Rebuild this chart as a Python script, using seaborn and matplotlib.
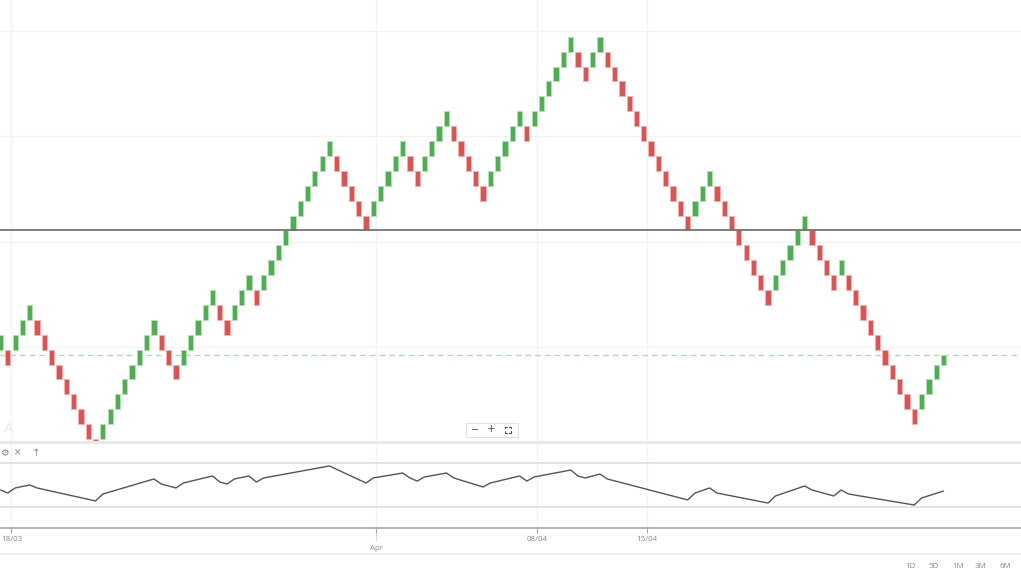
import matplotlib
matplotlib.use("Agg")
import numpy as np
import pandas as pd
import matplotlib.pyplot as plt
import seaborn as sns

# Renko bricks (bottom of each brick, in brick units)
brick_low = [7, 6, 7, 8, 9, 8, 7, 6, 5, 4, 3, 2, 1, 0, 1, 2, 3, 4, 5, 6,
             7, 8, 7, 6, 5, 6, 7, 8, 9, 10, 9, 8, 9, 10, 11, 10, 11, 12, 13, 14,
             15, 16, 17, 18, 19, 20, 19, 18, 17, 16, 15, 16, 17, 18, 19, 20, 19, 18, 19, 20,
             21, 22, 21, 20, 19, 18, 17, 18, 19, 20, 21, 22, 21, 22, 23, 24, 25, 26, 27, 26,
             25, 26, 27, 26, 25, 24, 23, 22, 21, 20, 19, 18, 17, 16, 15, 16, 17, 18, 17, 16,
             15, 14, 13, 12, 11, 10, 11, 12, 13, 14, 15, 14, 13, 12, 11, 12, 11, 10, 9, 8,
             7, 6, 5, 4, 3, 2, 3, 4, 5, 6]
brick_up = [1, 0, 1, 1, 1, 0, 0, 0, 0, 0, 0, 0, 0, 0, 1, 1, 1, 1, 1, 1,
            1, 1, 0, 0, 0, 1, 1, 1, 1, 1, 0, 0, 1, 1, 1, 0, 1, 1, 1, 1,
            1, 1, 1, 1, 1, 1, 0, 0, 0, 0, 0, 1, 1, 1, 1, 1, 0, 0, 1, 1,
            1, 1, 0, 0, 0, 0, 0, 1, 1, 1, 1, 1, 0, 1, 1, 1, 1, 1, 1, 0,
            0, 1, 1, 0, 0, 0, 0, 0, 0, 0, 0, 0, 0, 0, 0, 1, 1, 1, 0, 0,
            0, 0, 0, 0, 0, 0, 1, 1, 1, 1, 1, 0, 0, 0, 0, 1, 0, 0, 0, 0,
            0, 0, 0, 0, 0, 0, 1, 1, 1, 1]
last_level = 6.67          # current price (dashed line), in brick units
resistance_level = 15.03   # solid horizontal line
brick_size = 0.707
base_price = 114.93
grid_prices = [120, 125, 130, 135]

# lower indicator (vertices)
ind_idx = [0, 1, 2, 4, 5, 13, 14, 21, 22, 24, 25, 29, 30, 31, 32, 34, 35, 36, 45,
           50, 51, 55, 56, 57, 58, 61, 62, 66, 67, 71, 72, 73, 78, 79, 80, 81, 82, 83,
           94, 95, 97, 98, 105, 106, 110, 111, 114, 115, 116, 125, 126, 129]
ind_val = [45.5, 42.7, 47.3, 50.0, 47.3, 35.5, 41.8, 55.5, 50.9, 47.3, 51.8, 58.2,
           52.7, 50.9, 55.5, 58.2, 52.7, 56.4, 67.3, 51.8, 56.4, 60.9, 56.4, 53.6, 57.3,
           60.9, 56.4, 48.2, 51.8, 58.2, 53.6, 57.3, 63.6, 58.2, 56.4, 58.2, 60.0, 55.5,
           36.4, 42.7, 47.3, 42.7, 33.6, 40.0, 49.1, 45.5, 40.0, 45.5, 41.8, 31.8, 38.2, 44.5]
ind_bands = [30, 70]

date_pos = [1.5, 51.4, 73.4, 88.4]
date_labels = ["18/03", "Apr", "08/04", "15/04"]
range_buttons = ["1D", "5D", "1M", "3M", "6M"]

sns.set_theme(style="white")
plt.rcParams['font.family'] = ['Open Sans', 'DejaVu Sans']

W, H = 1021, 580
fig = plt.figure(figsize=(W / 100, H / 100), dpi=100)


def px_rect(x0, y0, x1, y1):
    return [x0 / W, 1 - y1 / H, (x1 - x0) / W, (y1 - y0) / H]


ax = fig.add_axes(px_rect(0, 0, W, 442))
axi = fig.add_axes(px_rect(0, 442, W, 528))

df = pd.DataFrame({"low": brick_low, "up": brick_up})
df["i"] = np.arange(len(df))
df["height"] = 1.0
df.loc[df.index[-1], "height"] = last_level - df["low"].iloc[-1]
df["bottom"] = base_price + df["low"] * brick_size
df["h"] = df["height"] * brick_size

green, red = "#4caf50", "#e05252"
for up, fill, edge in [(1, green, "#b5e0b6"), (0, red, "#f4b3b3")]:
    sub = df[df["up"] == up]
    ax.bar(sub["i"], sub["h"], bottom=sub["bottom"], width=0.72,
           color=fill, edgecolor=edge, linewidth=0.7, zorder=3)

xlim = (-0.07, 139.6)
ax.set_xlim(*xlim)
ax.set_ylim(base_price + 0.8 * brick_size, base_price + 30.47 * brick_size)
for p in grid_prices:
    ax.axhline(p, color="#f3f3f3", lw=1, zorder=0)
for xp in date_pos:
    ax.axvline(xp, color="#f3f3f3", lw=1, zorder=0)
    axi.axvline(xp, color="#f3f3f3", lw=1, zorder=0)
ax.axhline(base_price + resistance_level * brick_size, color="#6a6a6a", lw=1.2, zorder=4)
ax.axhline(base_price + last_level * brick_size, color="#a6e3a6", lw=1,
           ls=(0, (4, 3)), zorder=2)
ax.set_xticks([])
ax.set_yticks([])
for s in ax.spines.values():
    s.set_visible(False)
ax.text(0.004, 0.012, "A", transform=ax.transAxes, fontsize=11,
        color="#ececec", ha="left", va="bottom")

# indicator panel
ind = pd.DataFrame({"i": ind_idx, "v": ind_val})
sns.lineplot(data=ind, x="i", y="v", ax=axi, color="#555555", lw=1.0, zorder=3)
for b in ind_bands:
    axi.axhline(b, color="#dedede", lw=1.2, zorder=1)
axi.set_xlim(*xlim)
axi.set_ylim(10.9, 89.1)
axi.set_ylabel("")
axi.set_xlabel("")
axi.set_yticks([])
for name, s in axi.spines.items():
    s.set_visible(name == "bottom")
axi.spines["bottom"].set_color("#a8a8a8")
axi.spines["bottom"].set_linewidth(1.2)
axi.set_xticks(date_pos)
axi.set_xticklabels([lab if lab != "Apr" else "" for lab in date_labels],
                    fontsize=5.8, color="#8a8a8a")
axi.tick_params(axis="x", length=3.5, width=0.8, color="#a8a8a8", pad=2, bottom=True)
for xp, lab in zip(date_pos, date_labels):
    if lab == "Apr":
        axi.plot([xp, xp], [0, -0.14], transform=axi.get_xaxis_transform(),
                 color="#b0b0b0", lw=0.8, ls=(0, (1, 1)), clip_on=False)
        axi.text(xp, -0.2, lab, transform=axi.get_xaxis_transform(), ha="center",
                 va="top", fontsize=5.8, color="#8a8a8a")

# separators and toolbar bits
fig.add_artist(plt.Line2D([0, 1], [1 - 442 / H] * 2, color="#e9e9e9", lw=2.2))
fig.add_artist(plt.Line2D([0, 1], [1 - 554 / H] * 2, color="#ececec", lw=1.2))
fig.text(0 / W, 1 - 453 / H, "⚙", fontsize=7, color="#8a8a8a", ha="left", va="center",
         family=["DejaVu Sans"])
fig.text(18 / W, 1 - 453 / H, "✕", fontsize=6.5, color="#8a8a8a", ha="center", va="center",
         family=["DejaVu Sans"])
fig.text(36 / W, 1 - 453 / H, "↑", fontsize=7.5, color="#8a8a8a", ha="center", va="center",
         family=["DejaVu Sans"])

# zoom control box: minus, plus and a four-corner "fit" icon
fig.add_artist(plt.Rectangle((466 / W, 1 - 437 / H), 52 / W, 14 / H, fc="white",
                             ec="#e2e2e2", lw=0.8, transform=fig.transFigure))
fig.text(475 / W, 1 - 429.5 / H, "−", fontsize=7, color="#555555", ha="center",
         va="center", family=["DejaVu Sans"])
fig.text(491 / W, 1 - 429.5 / H, "+", fontsize=7.5, color="#555555", ha="center",
         va="center", family=["DejaVu Sans"])
cx, cy, r, c = 508, 429.5, 3, 1.6
for sx in (-1, 1):
    for sy in (-1, 1):
        xs = [cx + sx * (r - c), cx + sx * r, cx + sx * r]
        ys = [cy + sy * r, cy + sy * r, cy + sy * (r - c)]
        fig.add_artist(plt.Line2D([x / W for x in xs], [1 - y / H for y in ys],
                                  color="#555555", lw=0.8))

for k, lab in enumerate(range_buttons):
    fig.text([911, 934, 958, 981, 1005][k] / W, 1 - 567 / H, lab, fontsize=5.8,
             color="#8a8a8a", ha="center", va="center")

fig.savefig("out.png", dpi=100, facecolor="white")
